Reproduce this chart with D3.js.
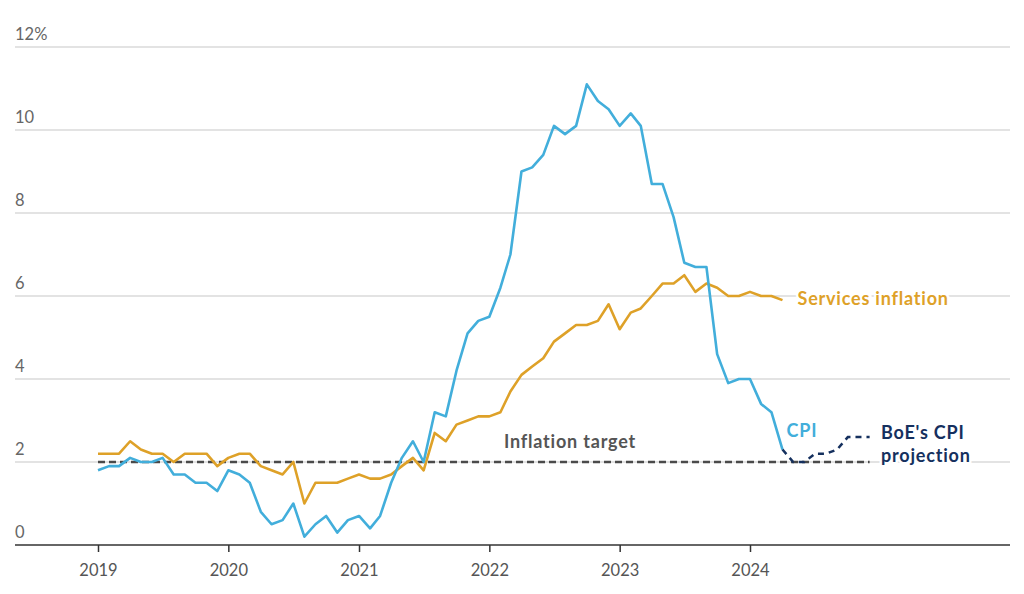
<!DOCTYPE html>
<html>
<head>
<meta charset="utf-8">
<script src="https://cdn.jsdelivr.net/npm/d3@7"></script>
<style>
  body { margin: 0; background: #fff; }
  svg text { font-family: Lato, "Noto Sans", sans-serif; }
</style>
</head>
<body>
<div id="chart"></div>
<script>
// monthly data, Jan 2019 - Apr 2024
const startMonth = new Date(2019, 0, 1);
const cpi = [
  1.8, 1.9, 1.9, 2.1, 2.0, 2.0, 2.1, 1.7, 1.7, 1.5, 1.5, 1.3,
  1.8, 1.7, 1.5, 0.8, 0.5, 0.6, 1.0, 0.2, 0.5, 0.7, 0.3, 0.6,
  0.7, 0.4, 0.7, 1.5, 2.1, 2.5, 2.0, 3.2, 3.1, 4.2, 5.1, 5.4,
  5.5, 6.2, 7.0, 9.0, 9.1, 9.4, 10.1, 9.9, 10.1, 11.1, 10.7, 10.5,
  10.1, 10.4, 10.1, 8.7, 8.7, 7.9, 6.8, 6.7, 6.7, 4.6, 3.9, 4.0,
  4.0, 3.4, 3.2, 2.3
];
const services = [
  2.2, 2.2, 2.2, 2.5, 2.3, 2.2, 2.2, 2.0, 2.2, 2.2, 2.2, 1.9,
  2.1, 2.2, 2.2, 1.9, 1.8, 1.7, 2.0, 1.0, 1.5, 1.5, 1.5, 1.6,
  1.7, 1.6, 1.6, 1.7, 1.9, 2.1, 1.8, 2.7, 2.5, 2.9, 3.0, 3.1,
  3.1, 3.2, 3.7, 4.1, 4.3, 4.5, 4.9, 5.1, 5.3, 5.3, 5.4, 5.8,
  5.2, 5.6, 5.7, 6.0, 6.3, 6.3, 6.5, 6.1, 6.3, 6.2, 6.0, 6.0,
  6.1, 6.0, 6.0, 5.9
];
// BoE projection, monthly from Apr 2024
const projStart = new Date(2024, 3, 1);
const projection = [2.3, 2.0, 2.0, 2.2, 2.2, 2.3, 2.6, 2.6, 2.6];
const target = 2;
const targetEnd = new Date(2024, 11, 1);
const yTicks = [0, 2, 4, 6, 8, 10, 12];
const yearTicks = [2019, 2020, 2021, 2022, 2023, 2024];

const width = 1024, height = 594;
const gridLeft = 15, gridRight = 1010;

const monthDate = (base, i) => new Date(base.getFullYear(), base.getMonth() + i, 1);
const cpiData = cpi.map((v, i) => ({ date: monthDate(startMonth, i), value: v }));
const servData = services.map((v, i) => ({ date: monthDate(startMonth, i), value: v }));
const projData = projection.map((v, i) => ({ date: monthDate(projStart, i), value: v }));

const x = d3.scaleTime()
  .domain([new Date(2019, 0, 1), new Date(2024, 0, 1)])
  .range([98, 750]);
const y = d3.scaleLinear()
  .domain([0, 12])
  .range([545, 47]);

const svg = d3.select("#chart").append("svg")
  .attr("width", width)
  .attr("height", height);

// gridlines + y labels
const grid = svg.append("g");
grid.selectAll("line")
  .data(yTicks.filter(d => d > 0))
  .join("line")
  .attr("x1", gridLeft).attr("x2", gridRight)
  .attr("y1", d => y(d)).attr("y2", d => y(d))
  .attr("stroke", "#c8c8c8")
  .attr("stroke-width", 1.2);
grid.selectAll("text")
  .data(yTicks)
  .join("text")
  .attr("x", gridLeft)
  .attr("y", d => y(d) - 7)
  .attr("fill", "#666")
  .attr("font-size", 16.5)
  .text(d => d === 12 ? "12%" : d);

// x axis
const xAxis = d3.axisBottom(x)
  .tickValues(yearTicks.map(yr => new Date(yr, 0, 1)))
  .tickFormat(d3.timeFormat("%Y"))
  .tickSize(7)
  .tickPadding(12);
const gx = svg.append("g")
  .attr("transform", `translate(0,${y(0)})`)
  .call(xAxis);
gx.select(".domain").remove();
gx.selectAll(".tick line").attr("stroke", "#333").attr("stroke-width", 1.5);
gx.selectAll(".tick text")
  .attr("fill", "#555")
  .attr("font-size", 16.5)
  .attr("font-family", "Lato, 'Noto Sans', sans-serif");
svg.append("line")
  .attr("x1", gridLeft).attr("x2", gridRight)
  .attr("y1", y(0)).attr("y2", y(0))
  .attr("stroke", "#333")
  .attr("stroke-width", 1.5);

// inflation target
svg.append("line")
  .attr("x1", x(startMonth)).attr("x2", x(targetEnd))
  .attr("y1", y(target)).attr("y2", y(target))
  .attr("stroke", "#4a4a4a")
  .attr("stroke-width", 2.5)
  .attr("stroke-dasharray", "7,4");

const line = d3.line()
  .x(d => x(d.date))
  .y(d => y(d.value));

svg.append("path")
  .datum(servData)
  .attr("fill", "none")
  .attr("stroke", "#dea128")
  .attr("stroke-width", 2.6)
  .attr("stroke-linejoin", "round")
  .attr("d", line);

svg.append("path")
  .datum(cpiData)
  .attr("fill", "none")
  .attr("stroke", "#42aedb")
  .attr("stroke-width", 2.6)
  .attr("stroke-linejoin", "round")
  .attr("d", line);

svg.append("path")
  .datum(projData)
  .attr("fill", "none")
  .attr("stroke", "#15305e")
  .attr("stroke-width", 2.5)
  .attr("stroke-dasharray", "6,5")
  .attr("d", line);

// labels
function label(txt, px, py, color, anchor) {
  return svg.append("text")
    .attr("x", px).attr("y", py)
    .attr("fill", color)
    .attr("font-size", 18)
    .attr("font-weight", "bold")
    .attr("letter-spacing", 0.8)
    .attr("text-anchor", anchor || "start")
    .attr("stroke", "#fff")
    .attr("stroke-width", 5)
    .attr("paint-order", "stroke")
    .text(txt);
}
const lastMonth = monthDate(startMonth, cpi.length - 1);
label("Inflation target", 570, y(target) - 14, "#555", "middle");
label("Services inflation", x(lastMonth) + 15, y(services[services.length - 1]) + 5, "#dea128");
label("CPI", x(lastMonth) + 4, y(cpi[cpi.length - 1]) - 13, "#42aedb");
label("BoE's CPI", 881, y(2.6) + 2, "#15305e");
label("projection", 881, y(2.0), "#15305e");
</script>
</body>
</html>
